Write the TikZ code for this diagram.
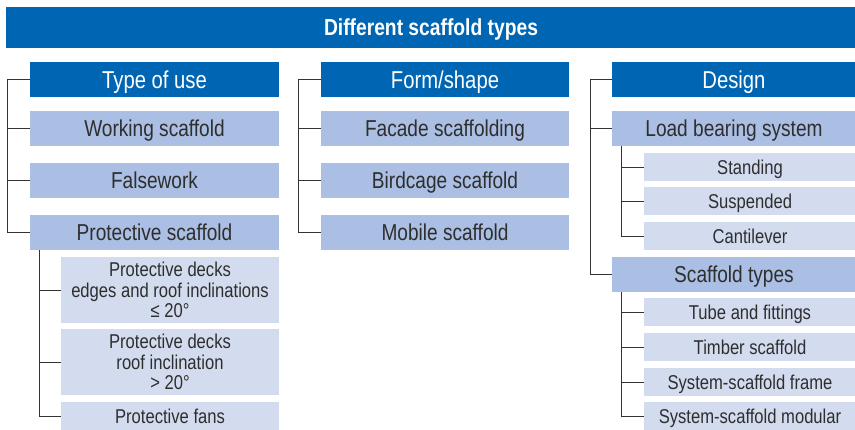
\documentclass[tikz,border=0pt]{standalone}
\usepackage{fontspec}
\setmainfont{Liberation Sans}[FakeStretch=0.83]
\definecolor{dblue}{HTML}{0066B3}
\definecolor{mblue}{HTML}{AABFE3}
\definecolor{lblue}{HTML}{D3DCEF}
\definecolor{txt}{HTML}{2E2E2E}
\definecolor{ln}{HTML}{333333}
\tikzset{
  box/.style={rectangle, inner sep=0pt, outer sep=0pt, align=center, text=txt,
    font=\fontsize{23}{24}\selectfont, text height=16.5pt, text depth=0pt},
  hdr/.style={box, fill=dblue, text=white, minimum height=35pt,
    font=\fontsize{24.4}{25}\selectfont, text height=17.4pt},
  mbox/.style={box, fill=mblue, minimum height=35pt},
  sbox/.style={rectangle, inner sep=0pt, outer sep=0pt, align=center, text=txt, fill=lblue,
    font=\fontsize{20}{20.5}\selectfont, text height=14.3pt, text depth=0pt, minimum width=218pt},
  smbox/.style={rectangle, inner sep=0pt, outer sep=0pt, align=center, text=txt, fill=lblue,
    font=\fontsize{20}{20.8}\selectfont, minimum width=218pt, minimum height=66pt},
  rsub/.style={sbox, minimum width=212pt, minimum height=28pt},
  tree/.style={draw=ln, line width=1pt}
}
\begin{document}
\begin{tikzpicture}[x=1pt,y=-1pt]
\useasboundingbox (0,0) rectangle (855,429);
% title
\node[hdr, minimum width=850pt, minimum height=41pt, font=\fontsize{23.2}{24}\selectfont\bfseries, text height=16.6pt] (title) at (431,27.5) {Different scaffold types};
% left column
\node[hdr, minimum width=249pt] (tou) at (154.5,79.5) {Type of use};
\node[mbox, minimum width=249pt] (work) at (154.5,128.5) {Working scaffold};
\node[mbox, minimum width=249pt] (false) at (154.5,180.5) {Falsework};
\node[mbox, minimum width=249pt] (prot) at (154.5,232.5) {Protective scaffold};
\node[smbox] (pd1) at (170,290) {Protective decks\\edges and roof inclinations\\≤ 20°};
\node[smbox] (pd2) at (170,362) {Protective decks\\roof inclination\\> 20°};
\node[sbox, minimum height=28pt] (fans) at (170,416) {Protective fans};
\coordinate (l0) at (7,0);
\coordinate (l1) at (39,0);
\draw[tree] (tou.west) -- (tou.west -| l0) |- (prot.west);
\draw[tree] (work.west) -- (work.west -| l0);
\draw[tree] (false.west) -- (false.west -| l0);
\draw[tree] (prot.south -| l1) |- (fans.west);
\draw[tree] (pd1.west) -- (pd1.west -| l1);
\draw[tree] (pd2.west) -- (pd2.west -| l1);
% middle column
\node[hdr, minimum width=248pt] (fs) at (445,79.5) {Form/shape};
\node[mbox, minimum width=248pt] (facade) at (445,128.5) {Facade scaffolding};
\node[mbox, minimum width=248pt] (bird) at (445,180.5) {Birdcage scaffold};
\node[mbox, minimum width=248pt] (mobile) at (445,232.5) {Mobile scaffold};
\coordinate (m0) at (298,0);
\draw[tree] (fs.west) -- (fs.west -| m0) |- (mobile.west);
\draw[tree] (facade.west) -- (facade.west -| m0);
\draw[tree] (bird.west) -- (bird.west -| m0);
% right column
\node[hdr, minimum width=244pt] (design) at (734,79.5) {Design};
\node[mbox, minimum width=244pt] (load) at (734,128.5) {Load bearing system};
\node[rsub] (stand) at (750,167) {Standing};
\node[rsub] (susp) at (750,201) {Suspended};
\node[rsub] (cant) at (750,236) {Cantilever};
\node[mbox, minimum width=244pt] (stypes) at (734,274.5) {Scaffold types};
\node[rsub] (tube) at (750,312) {Tube and fittings};
\node[rsub] (timber) at (750,347) {Timber scaffold};
\node[rsub] (frame) at (750,382) {System-scaffold frame};
\node[rsub] (modular) at (750,416) {System-scaffold modular};
\coordinate (r0) at (590,0);
\coordinate (r1) at (621,0);
\draw[tree] (design.west) -- (design.west -| r0) |- (stypes.west);
\draw[tree] (load.west) -- (load.west -| r0);
\draw[tree] (load.south -| r1) |- (cant.west);
\draw[tree] (stand.west) -- (stand.west -| r1);
\draw[tree] (susp.west) -- (susp.west -| r1);
\draw[tree] (stypes.south -| r1) |- (modular.west);
\draw[tree] (tube.west) -- (tube.west -| r1);
\draw[tree] (timber.west) -- (timber.west -| r1);
\draw[tree] (frame.west) -- (frame.west -| r1);
\end{tikzpicture}
\end{document}
